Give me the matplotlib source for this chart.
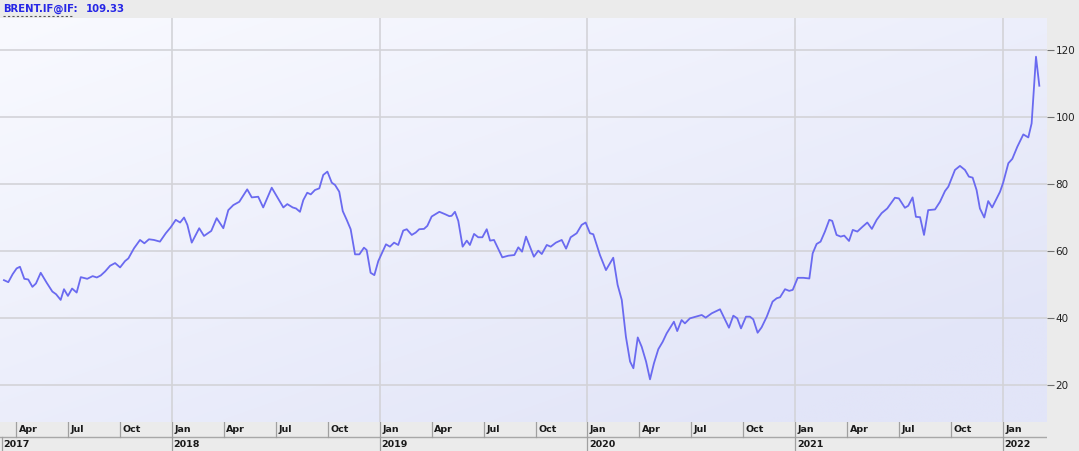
import numpy as np
import matplotlib
matplotlib.use("Agg")
import matplotlib.pyplot as plt
from matplotlib.patches import Rectangle

# ---------------- data (decimal years, USD/bbl) ----------------
dates_2017 = [2017.191, 2017.212, 2017.233, 2017.252, 2017.268, 2017.289, 2017.308, 2017.328,
              2017.345, 2017.368, 2017.397, 2017.424, 2017.442, 2017.464, 2017.480, 2017.499,
              2017.519, 2017.541, 2017.561, 2017.592, 2017.618, 2017.638, 2017.657, 2017.678,
              2017.702, 2017.726, 2017.750, 2017.774, 2017.790, 2017.817, 2017.846, 2017.867,
              2017.889, 2017.913, 2017.942, 2017.970, 2017.994]
brent_2017 = [51.3, 50.7, 53.1, 54.8, 55.3, 51.7, 51.5, 49.3,
              50.3, 53.5, 50.5, 47.9, 47.1, 45.4, 48.6, 46.6,
              48.8, 47.6, 52.2, 51.7, 52.5, 52.1, 52.7, 53.9,
              55.6, 56.4, 55.1, 57.0, 57.8, 60.8, 63.3, 62.3,
              63.5, 63.3, 62.8, 65.3, 67.1]

dates_2018 = [2018.018, 2018.039, 2018.058, 2018.074, 2018.095, 2018.131, 2018.154, 2018.189,
              2018.215, 2018.247, 2018.271, 2018.295, 2018.324, 2018.362, 2018.384, 2018.415,
              2018.439, 2018.480, 2018.536, 2018.555, 2018.581, 2018.597, 2018.616, 2018.632,
              2018.651, 2018.668, 2018.688, 2018.709, 2018.728, 2018.748, 2018.769, 2018.785,
              2018.805, 2018.822, 2018.841, 2018.860, 2018.881, 2018.902, 2018.924, 2018.937,
              2018.956, 2018.974, 2018.993]
brent_2018 = [69.3, 68.5, 70.0, 67.8, 62.5, 66.8, 64.5, 66.0,
              69.8, 66.8, 72.2, 73.7, 74.7, 78.4, 76.0, 76.2,
              73.0, 78.9, 73.0, 74.0, 73.0, 72.7, 71.7, 75.2,
              77.4, 76.9, 78.2, 78.7, 82.7, 83.7, 80.4, 79.7,
              77.7, 71.9, 69.3, 66.5, 59.0, 59.0, 61.0, 60.3,
              53.5, 52.8, 57.0]

dates_2019 = [2019.030, 2019.049, 2019.069, 2019.089, 2019.113, 2019.130, 2019.154, 2019.173,
              2019.190, 2019.213, 2019.229, 2019.250, 2019.287, 2019.314, 2019.335, 2019.346,
              2019.362, 2019.378, 2019.399, 2019.419, 2019.434, 2019.454, 2019.474, 2019.494,
              2019.515, 2019.531, 2019.550, 2019.590, 2019.619, 2019.648, 2019.667, 2019.685,
              2019.704, 2019.742, 2019.763, 2019.780, 2019.804, 2019.823, 2019.848, 2019.876,
              2019.897, 2019.919, 2019.948, 2019.972, 2019.991]
brent_2019 = [62.0, 61.3, 62.5, 61.8, 66.1, 66.5, 64.8, 65.5,
              66.5, 66.6, 67.5, 70.3, 71.7, 71.0, 70.4, 70.5,
              71.7, 69.0, 61.3, 63.1, 61.8, 65.1, 64.1, 64.1,
              66.5, 63.1, 63.3, 58.1, 58.6, 58.8, 61.1, 59.8,
              64.3, 58.3, 60.1, 59.1, 61.8, 61.3, 62.5, 63.3,
              60.7, 64.1, 65.3, 67.8, 68.5]

dates_2020 = [2020.012, 2020.028, 2020.060, 2020.089, 2020.124, 2020.145, 2020.165, 2020.185,
              2020.205, 2020.221, 2020.242, 2020.261, 2020.282, 2020.301, 2020.320, 2020.341,
              2020.362, 2020.381, 2020.416, 2020.432, 2020.453, 2020.469, 2020.493, 2020.522,
              2020.550, 2020.569, 2020.598, 2020.638, 2020.681, 2020.702, 2020.721, 2020.739,
              2020.763, 2020.782, 2020.798, 2020.819, 2020.838, 2020.863, 2020.891, 2020.911,
              2020.927, 2020.951, 2020.971, 2020.988]
brent_2020 = [65.3, 65.0, 58.8, 54.3, 58.0, 49.9, 45.4, 34.4,
              27.0, 25.0, 34.2, 31.4, 27.0, 21.7, 26.5, 30.7,
              32.9, 35.4, 38.9, 36.1, 39.4, 38.4, 39.9, 40.4,
              40.9, 40.1, 41.4, 42.6, 37.1, 40.7, 39.9, 36.9,
              40.4, 40.4, 39.6, 35.6, 37.2, 40.4, 44.9, 45.9,
              46.2, 48.6, 48.1, 48.4]

dates_2021 = [2021.012, 2021.039, 2021.068, 2021.084, 2021.103, 2021.122, 2021.143, 2021.164,
              2021.178, 2021.199, 2021.219, 2021.236, 2021.259, 2021.277, 2021.299, 2021.325,
              2021.347, 2021.369, 2021.392, 2021.416, 2021.443, 2021.480, 2021.499, 2021.528,
              2021.544, 2021.565, 2021.581, 2021.601, 2021.620, 2021.640, 2021.673, 2021.697,
              2021.721, 2021.737, 2021.769, 2021.793, 2021.817, 2021.836, 2021.854, 2021.873,
              2021.889, 2021.910, 2021.929, 2021.948, 2021.986]
brent_2021 = [52.0, 52.0, 51.8, 59.3, 62.1, 62.8, 65.8, 69.3,
              69.0, 64.8, 64.3, 64.6, 63.0, 66.3, 65.8, 67.3,
              68.5, 66.6, 69.3, 71.3, 72.7, 75.9, 75.7, 72.9,
              73.5, 76.0, 70.2, 70.1, 64.8, 72.2, 72.4, 74.7,
              77.9, 79.2, 84.2, 85.4, 84.2, 82.2, 81.9, 78.2,
              72.7, 70.0, 74.9, 73.0, 77.7]

dates_2022 = [2022.001, 2022.026, 2022.045, 2022.069, 2022.098, 2022.122, 2022.138, 2022.159,
              2022.175]
brent_2022 = [80.4, 86.2, 87.5, 91.1, 94.8, 93.9, 98.1, 118.0, 109.33]

y_ticks = [20, 40, 60, 80, 100, 120]
month_labels = ["Jan", "Apr", "Jul", "Oct"]
years = [2017, 2018, 2019, 2020, 2021, 2022]
ticker_name = "BRENT.IF@IF:"
last_value = "109.33"

dates = np.array(dates_2017 + dates_2018 + dates_2019 + dates_2020 + dates_2021 + dates_2022)
brent = np.array(brent_2017 + brent_2018 + brent_2019 + brent_2020 + brent_2021 + brent_2022)

# ---------------- figure ----------------
W, H = 1079, 451
fig = plt.figure(figsize=(W / 100, H / 100), dpi=100)
fig.patch.set_facecolor("#ebebeb")

def fx(px):
    return px / W

def fy(py):
    return 1 - py / H

ax_left, ax_right, ax_top, ax_bot = 0, 1047, 18, 422
ax = fig.add_axes([fx(ax_left), fy(ax_bot), fx(ax_right - ax_left), fy(ax_top) - fy(ax_bot)])
xmin, xmax = 2017.172, 2022.212
ymin, ymax = 8.96, 129.55
ax.set_xlim(xmin, xmax)
ax.set_ylim(ymin, ymax)

# gradient background
gx = np.linspace(0, 1, 300)
gy = np.linspace(0, 1, 200)
GX, GY = np.meshgrid(gx, gy)
tt = np.clip(0.55 * GX + 0.6 * GY, 0, 1)  # GY=1 is bottom (origin upper)
c0 = np.array([249, 250, 255]) / 255
c1 = np.array([226, 229, 248]) / 255
img = c0[None, None, :] * (1 - tt[..., None]) + c1[None, None, :] * tt[..., None]
ax.imshow(img, extent=[0, 1, 0, 1], transform=ax.transAxes, aspect="auto",
          origin="upper", zorder=0, interpolation="bilinear")

for sp in ax.spines.values():
    sp.set_visible(False)

grid_c = "#d3d3d8"
for v in y_ticks:
    ax.axhline(v, color=grid_c, lw=1.2, zorder=1)
for yr in years[1:]:
    ax.axvline(yr, color=grid_c, lw=1.2, zorder=1)

ax.plot(dates, brent, color="#6a6af0", lw=1.3, zorder=3, solid_joinstyle="round")

ax.set_xticks([])
ax.yaxis.tick_right()
ax.set_yticks(y_ticks)
ax.set_yticklabels([str(v) for v in y_ticks])
ax.tick_params(axis="y", which="both", length=5, width=0.8, color="#707070",
               direction="out", pad=1, labelsize=7.5, labelcolor="#222222")

# ---------------- bottom date band ----------------
band = fig.add_axes([fx(0), fy(451), fx(1047), fy(422) - fy(451)])
band.set_xlim(xmin, xmax)
band.set_ylim(0, 29)  # pixels from bottom
band.axis("off")
band.add_patch(Rectangle((0, 0), 1, 1, transform=band.transAxes, facecolor="#ebebeb",
                         edgecolor="none", zorder=0))
band.axhline(14, color="#a8a8a8", lw=1.0, zorder=2)
for yr in years:
    for m, lab in zip([1, 4, 7, 10], month_labels):
        xq = yr + (m - 1) / 12
        if xq < xmin or xq > xmax:
            continue
        band.plot([xq, xq], [14, 29], color="#a0a0a0", lw=0.9, zorder=2)
        band.text(xq + 0.012, 21.5, lab, fontsize=6.8, fontweight="bold",
                  color="#1a1a1a", va="center", ha="left", family="DejaVu Sans")
    xs = max(yr, xmin + 0.008)
    band.plot([xs, xs], [0, 14], color="#a0a0a0", lw=0.9, zorder=2)
    band.text(xs + 0.008, 6.5, str(yr), fontsize=6.8, fontweight="bold",
              color="#1a1a1a", va="center", ha="left", family="DejaVu Sans")

# ---------------- top label ----------------
t1 = fig.text(fx(3), fy(9), ticker_name, fontsize=7.3, fontweight="bold", color="#2626e6",
              va="center", ha="left", family="DejaVu Sans")
fig.text(fx(86), fy(9), last_value, fontsize=7.3, fontweight="bold", color="#2626e6",
         va="center", ha="left", family="DejaVu Sans")
fig.add_artist(matplotlib.lines.Line2D([fx(3), fx(73)], [fy(15.5), fy(15.5)],
                                       color="#555555", lw=0.8, ls=(0, (2, 2))))

fig.savefig("out.png", dpi=100, facecolor=fig.get_facecolor())
